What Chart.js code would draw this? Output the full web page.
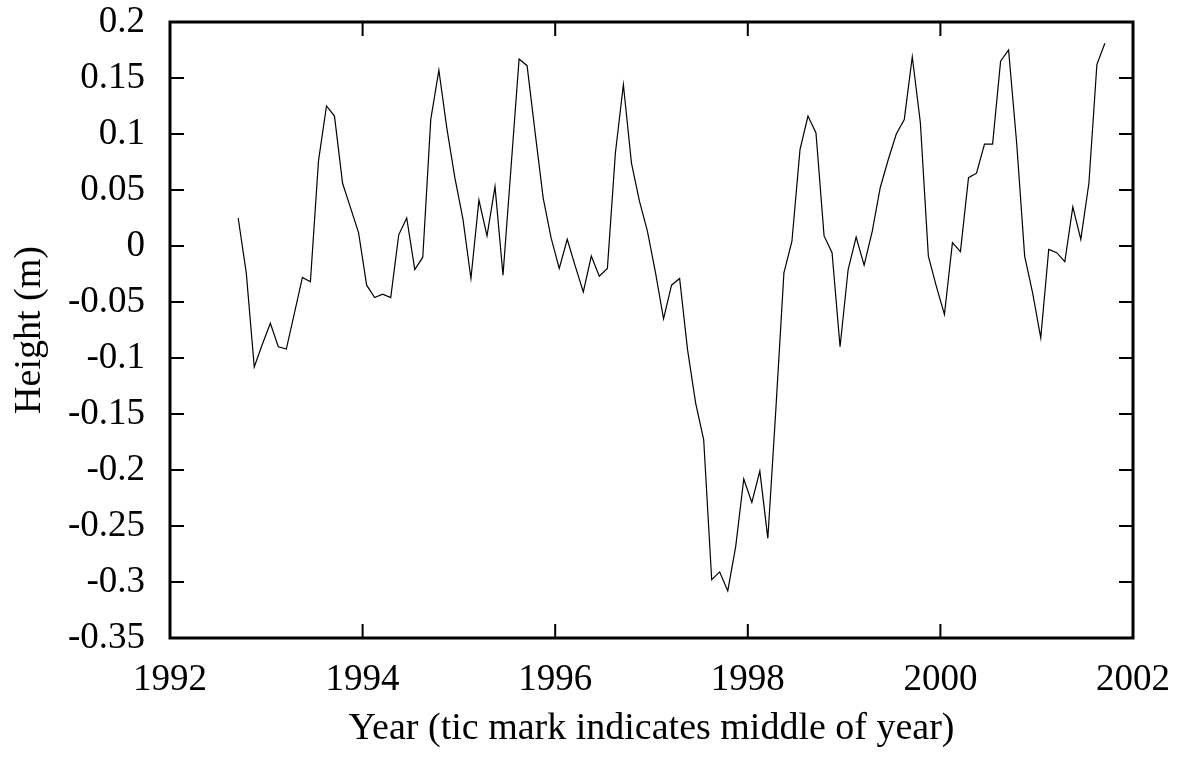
<!DOCTYPE html>
<html lang="en">
<head>
    <meta charset="UTF-8">
    <title>Height (m) by year</title>
    <script src="https://cdn.jsdelivr.net/npm/chart.js"></script>
    <style>
        body {
            margin: 0;
            background-color: #ffffff;
        }
    </style>
</head>
<body>
    <canvas id="heightChart" width="1183" height="758"></canvas>

<script>
    // Monthly samples, in decimal years (mid-month)
    const years = [
        1992.708, 1992.792, 1992.875, 1992.958,
        1993.042, 1993.125, 1993.208, 1993.292, 1993.375, 1993.458, 1993.542, 1993.625, 1993.708, 1993.792, 1993.875, 1993.958,
        1994.042, 1994.125, 1994.208, 1994.292, 1994.375, 1994.458, 1994.542, 1994.625, 1994.708, 1994.792, 1994.875, 1994.958,
        1995.042, 1995.125, 1995.208, 1995.292, 1995.375, 1995.458, 1995.542, 1995.625, 1995.708, 1995.792, 1995.875, 1995.958,
        1996.042, 1996.125, 1996.208, 1996.292, 1996.375, 1996.458, 1996.542, 1996.625, 1996.708, 1996.792, 1996.875, 1996.958,
        1997.042, 1997.125, 1997.208, 1997.292, 1997.375, 1997.458, 1997.542, 1997.625, 1997.708, 1997.792, 1997.875, 1997.958,
        1998.042, 1998.125, 1998.208, 1998.292, 1998.375, 1998.458, 1998.542, 1998.625, 1998.708, 1998.792, 1998.875, 1998.958,
        1999.042, 1999.125, 1999.208, 1999.292, 1999.375, 1999.458, 1999.542, 1999.625, 1999.708, 1999.792, 1999.875, 1999.958,
        2000.042, 2000.125, 2000.208, 2000.292, 2000.375, 2000.458, 2000.542, 2000.625, 2000.708, 2000.792, 2000.875, 2000.958,
        2001.042, 2001.125, 2001.208, 2001.292, 2001.375, 2001.458, 2001.542, 2001.625, 2001.708
    ];

    // Height (m)
    const heights = [
        0.025, -0.024, -0.108, -0.088,
        -0.069, -0.090, -0.092, -0.060, -0.028, -0.032, 0.076, 0.125, 0.116, 0.056, 0.034, 0.012,
        -0.035, -0.046, -0.043, -0.046, 0.010, 0.025, -0.021, -0.010, 0.113, 0.157, 0.105, 0.061,
        0.024, -0.029, 0.041, 0.009, 0.053, -0.026, 0.071, 0.167, 0.161, 0.101, 0.043, 0.007,
        -0.020, 0.006, -0.018, -0.041, -0.009, -0.027, -0.020, 0.083, 0.144, 0.074, 0.040, 0.013,
        -0.024, -0.065, -0.035, -0.029, -0.093, -0.140, -0.173, -0.298, -0.291, -0.308, -0.268, -0.208,
        -0.229, -0.201, -0.261, -0.145, -0.024, 0.004, 0.086, 0.116, 0.101, 0.009, -0.006, -0.090,
        -0.021, 0.008, -0.017, 0.013, 0.052, 0.077, 0.100, 0.113, 0.169, 0.110, -0.009, -0.036,
        -0.061, 0.003, -0.005, 0.061, 0.065, 0.091, 0.091, 0.165, 0.175, 0.092, -0.009, -0.042,
        -0.082, -0.003, -0.006, -0.014, 0.035, 0.006, 0.056, 0.162, 0.181
    ];

    const xTicksStep = 2;
    const yTicksStep = 0.05;

    const serif = "'Liberation Serif', 'Times New Roman', serif";
    const tickFont = { family: serif, size: 37 };
    const titleFont = { family: serif, size: 38 };

    // gnuplot style frame with inward tic marks on all four sides
    const frameTicks = {
        id: 'frameTicks',
        afterDatasetsDraw(chart) {
            const { ctx, chartArea: a, scales: { x, y } } = chart;
            const len = 14;
            ctx.save();
            ctx.strokeStyle = '#000';
            ctx.lineWidth = 2;
            ctx.beginPath();
            x.ticks.forEach(t => {
                const px = x.getPixelForValue(t.value);
                ctx.moveTo(px, a.bottom);
                ctx.lineTo(px, a.bottom - len);
                ctx.moveTo(px, a.top);
                ctx.lineTo(px, a.top + len);
            });
            y.ticks.forEach(t => {
                const py = y.getPixelForValue(t.value);
                ctx.moveTo(a.left, py);
                ctx.lineTo(a.left + len, py);
                ctx.moveTo(a.right, py);
                ctx.lineTo(a.right - len, py);
            });
            ctx.stroke();
            ctx.lineWidth = 3;
            ctx.strokeRect(a.left, a.top, a.right - a.left, a.bottom - a.top);
            ctx.restore();
        }
    };

    const ctx = document.getElementById('heightChart').getContext('2d');
    new Chart(ctx, {
        type: 'line',
        data: {
            datasets: [{
                data: years.map((yr, i) => ({ x: yr, y: heights[i] })),
                borderColor: '#000',
                borderWidth: 1.2,
                pointRadius: 0,
                tension: 0,
                fill: false
            }]
        },
        options: {
            responsive: false,
            animation: false,
            layout: {
                padding: { left: 0, right: 50, top: 22, bottom: 0 }
            },
            plugins: {
                legend: { display: false },
                tooltip: { enabled: false }
            },
            scales: {
                x: {
                    type: 'linear',
                    min: 1992,
                    max: 2002,
                    grid: { display: false, drawTicks: false },
                    border: { display: false },
                    ticks: {
                        stepSize: xTicksStep,
                        color: '#000',
                        font: tickFont,
                        padding: 20,
                        maxRotation: 0,
                        callback: v => String(v)
                    },
                    title: {
                        display: true,
                        text: 'Year (tic mark indicates middle of year)',
                        color: '#000',
                        font: titleFont,
                        padding: { top: 0, bottom: 6 }
                    },
                    afterFit: scale => {
                        scale.height = 120;
                        scale.paddingLeft = 0;
                        scale.paddingRight = 0;
                    }
                },
                y: {
                    min: -0.35,
                    max: 0.2,
                    grid: { display: false, drawTicks: false },
                    border: { display: false },
                    ticks: {
                        stepSize: yTicksStep,
                        color: '#000',
                        font: tickFont,
                        padding: 25,
                        callback: v => String(parseFloat(v.toFixed(2)))
                    },
                    title: {
                        display: true,
                        text: 'Height (m)',
                        color: '#000',
                        font: titleFont,
                        padding: { top: 7, bottom: 0 }
                    },
                    afterFit: scale => {
                        scale.width = 170;
                        scale.paddingTop = 0;
                        scale.paddingBottom = 0;
                    }
                }
            }
        },
        plugins: [frameTicks]
    });
</script>
</body>
</html>
